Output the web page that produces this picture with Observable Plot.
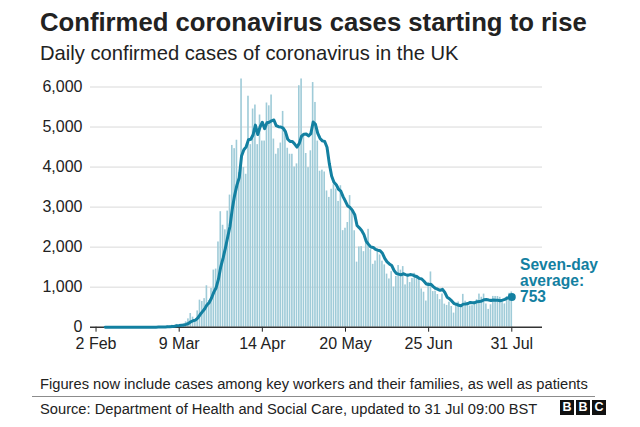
<!DOCTYPE html>
<html>
<head>
<meta charset="utf-8">
<script src="https://cdn.jsdelivr.net/npm/d3@7"></script>
<script src="https://cdn.jsdelivr.net/npm/@observablehq/plot@0.6"></script>
<style>
  html, body { margin: 0; padding: 0; background: #fff; }
  #wrap { position: relative; width: 640px; height: 427px; overflow: hidden; font-family: "Liberation Sans", Arial, sans-serif; color: #222; }
  .t { position: absolute; white-space: nowrap; }
  #title { left: 40px; top: 10.4px; font-size: 25.7px; line-height: 25.7px; font-weight: bold; }
  #subtitle { left: 40px; top: 43px; font-size: 20.2px; line-height: 20.2px; }
  #chart { position: absolute; left: 0; top: 70px; }
  #chart svg { display: block; }
  #note { left: 40px; top: 376.5px; font-size: 14.7px; line-height: 14.7px; }
  #sep { position: absolute; left: 32px; width: 563px; top: 396px; height: 1px; background: #8c8c8c; }
  #source { left: 40px; top: 401.5px; font-size: 14.7px; line-height: 14.7px; }
  #anno { left: 520px; top: 256.6px; font-size: 15.6px; line-height: 16px; font-weight: bold; color: #1380A1; }
  .bbc { position: absolute; top: 400px; width: 14px; height: 15px; background: #111; color: #fff; font-weight: bold; font-size: 12.5px; line-height: 15px; text-align: center; }
</style>
</head>
<body>
<div id="wrap">
  <div class="t" id="title">Confirmed coronavirus cases starting to rise</div>
  <div class="t" id="subtitle">Daily confirmed cases of coronavirus in the UK</div>
  <div id="chart"></div>
  <div class="t" id="anno">Seven-day<br>average:<br>753</div>
  <div class="t" id="note">Figures now include cases among key workers and their families, as well as patients</div>
  <div id="sep"></div>
  <div class="t" id="source">Source: Department of Health and Social Care, updated to 31 Jul 09:00 BST</div>
  <div class="bbc" style="left:560px">B</div>
  <div class="bbc" style="left:576px">B</div>
  <div class="bbc" style="left:592px">C</div>
</div>
<script>
// ---- data (daily confirmed cases, UK, by date reported) ----
const firstDay = "2020-01-31";
const casesJan = [2];
const casesFeb = [0,0,0,0,0,1,0,0,1,4, 0,1,0,0,0,0,0,0,0,0, 0,0,4,0,0,0,2,5,3];
const casesMar = [13,4,11,34,29,48,45,69,43,67, 83,134,208,342,251,152,407,676,643,714, 1035,665,967,1427,1452,2129,2885,2546,2433,2900,3300];
const casesApr = [4540,4460,4670,3860,6200,3990,3820,5770,4560,5450, 5550,4560,5300,4650,4650,5600,5530,5800,4700,4320, 4460,4600,5390,4920,4470,4320,4320,4000,4080,6032];
const casesMay = [6201,4806,4339,3985,4406,6111,5614,4649,3896,3923, 3877,3403,3242,3446,3560,3451,3142,3534,2412,2472, 2615,3287,2959,2409,1625,2004,2013,1887,2095,2445,1936];
const casesJun = [1570,1653,1871,1805,1650,1557,1326,1205,1387,1003, 1266,1541,1425,1514,1056,1279,1115,1218,1346,1295, 1221,958,874,653,1118,1380,890,901,815,689];
const casesJul = [829,576,544,624,516,352,581,630,512,820, 650,598,530,538,642,687,827,748,827,580, 445,560,769,768,767,747,685,581,763,846,880];

const xTickLabels = ["2020-02-02","2020-03-09","2020-04-14","2020-05-20","2020-06-25","2020-07-31"];
const yTicks = [0,1000,2000,3000,4000,5000,6000];
const xDomain = ["2020-01-30T14:24Z","2020-08-13T07:12Z"];

// ---- build table ----
const allCases = [].concat(casesJan, casesFeb, casesMar, casesApr, casesMay, casesJun, casesJul);
const start = new Date(firstDay + "T00:00Z");
const data = allCases.map((c, i) => ({date: d3.utcDay.offset(start, i), cases: c}));
const half = 12 * 3600 * 1000;

const teal = "#1380A1";
const win = {k: 7, anchor: "end", strict: true, reduce: "mean"};

const chart = Plot.plot({
  width: 640,
  height: 290,
  marginLeft: 90,
  marginRight: 98,
  marginTop: 16.5,
  marginBottom: 33.3,
  style: {fontFamily: "'Liberation Sans', Arial, sans-serif", fontSize: "16px", color: "#222", background: "transparent", overflow: "visible"},
  x: {type: "utc", domain: xDomain.map(d => new Date(d)), ticks: xTickLabels.map(d => new Date(d + "T00:00Z")),
      tickFormat: d3.utcFormat("%-d %b"), tickSize: 5, tickPadding: 5, label: null},
  y: {domain: [0, 6000], ticks: yTicks, tickFormat: d3.format(","), tickSize: 0, tickPadding: 8, label: null},
  marks: [
    Plot.ruleY(yTicks.slice(1), {stroke: "#d9d9d9", strokeWidth: 1}),
    Plot.rectY(data, {x1: d => new Date(+d.date - half), x2: d => new Date(+d.date + half), y: "cases",
                      fill: "#9fcbd8", insetLeft: 0.35, insetRight: 0.35}),
    Plot.ruleY([0], {stroke: "#333", strokeWidth: 1.5}),
    Plot.lineY(data, Plot.windowY(win, {x: "date", y: "cases", stroke: teal, strokeWidth: 3, strokeLinejoin: "round"})),
    Plot.dot(data, Plot.selectLast(Plot.windowY(win, {x: "date", y: "cases", fill: teal, r: 4})))
  ]
});
document.getElementById("chart").appendChild(chart);
</script>
</body>
</html>
